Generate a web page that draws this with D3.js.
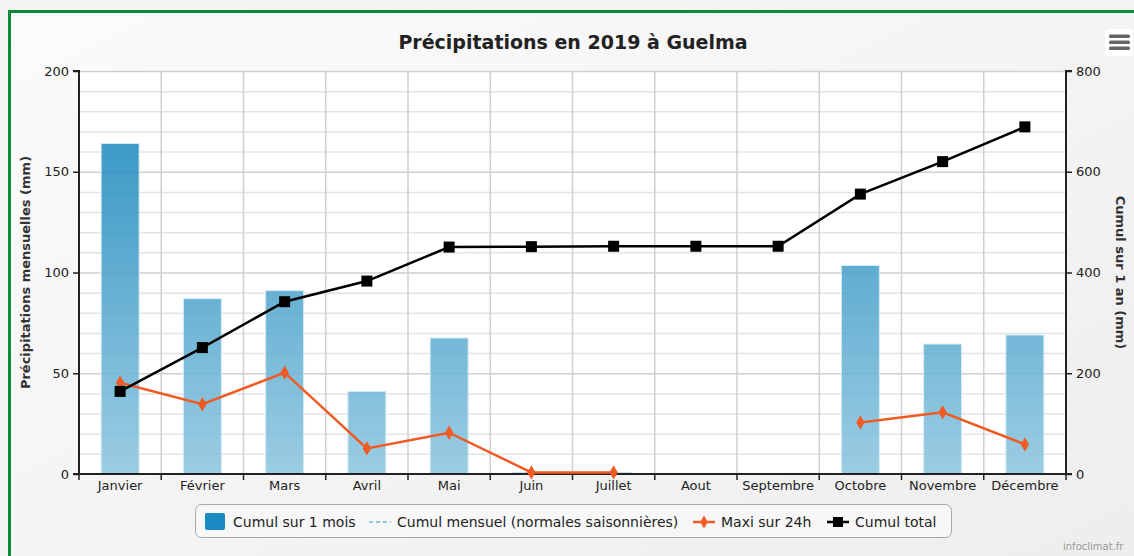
<!DOCTYPE html>
<html>
<head>
<meta charset="utf-8">
<script src="https://cdn.jsdelivr.net/npm/d3@7"></script>
<style>
  html, body { margin: 0; padding: 0; background: #f3f3f3; }
  svg { display: block; }
</style>
</head>
<body>
<svg id="chart" width="1134" height="556"></svg>
<script>
// Monthly precipitation, Guelma 2019
const months = ["Janvier", "Février", "Mars", "Avril", "Mai", "Juin", "Juillet",
                "Aout", "Septembre", "Octobre", "Novembre", "Décembre"];
const monthlyTotal = [164, 87, 91, 41, 67.5, 0.8, 0.8, 0, 0, 103.5, 64.5, 69];
const max24h = [45.3, 34.6, 50.3, 12.7, 20.5, 0.8, 0.8, null, null, 25.6, 30.6, 14.7];
const yearCumul = [164, 251, 342, 383, 450.5, 451.3, 452.1, 452.1, 452.1, 555.6, 620.1, 689.1];
const leftTicks = [0, 50, 100, 150, 200];
const rightTicks = [0, 200, 400, 600, 800];

const W = 1134, H = 556;
const m = { left: 79, right: 1066, top: 71, bottom: 474 };

const svg = d3.select("#chart");
const defs = svg.append("defs");

// page background and frame
const bgGrad = defs.append("linearGradient").attr("id", "bgGrad")
  .attr("x1", 0).attr("y1", 0).attr("x2", 1).attr("y2", 1);
bgGrad.append("stop").attr("offset", 0).attr("stop-color", "#fbfbfb");
bgGrad.append("stop").attr("offset", 1).attr("stop-color", "#ededed");
svg.append("rect").attr("width", W).attr("height", H).attr("fill", "#f3f3f3");
svg.append("rect").attr("x", 9.5).attr("y", 11.5).attr("width", W + 20).attr("height", H + 20)
  .attr("fill", "url(#bgGrad)").attr("stroke", "#0b8a3e").attr("stroke-width", 3);

// plot area
svg.append("rect").attr("x", m.left).attr("y", m.top)
  .attr("width", m.right - m.left).attr("height", m.bottom - m.top).attr("fill", "#ffffff");

const x = d3.scaleBand().domain(months).range([m.left, m.right]).paddingInner(0).paddingOuter(0);
const yL = d3.scaleLinear().domain([0, 200]).range([m.bottom, m.top]);
const yR = d3.scaleLinear().domain([0, 800]).range([m.bottom, m.top]);

// horizontal grid: minor every 10 mm, major every 50 mm
const grid = svg.append("g");
grid.selectAll("line.minor").data(d3.range(10, 201, 10).filter(v => v % 50 !== 0)).join("line")
  .attr("x1", m.left).attr("x2", m.right)
  .attr("y1", d => yL(d) + 0.5).attr("y2", d => yL(d) + 0.5)
  .attr("stroke", "#e4e4e4").attr("stroke-width", 1.5);
grid.selectAll("line.major").data(leftTicks.slice(1)).join("line")
  .attr("x1", m.left).attr("x2", m.right)
  .attr("y1", d => yL(d) + 0.5).attr("y2", d => yL(d) + 0.5)
  .attr("stroke", "#cfcfcf").attr("stroke-width", 1.5);
// vertical grid at month boundaries
grid.selectAll("line.v").data(months.slice(1)).join("line")
  .attr("x1", d => x(d)).attr("x2", d => x(d))
  .attr("y1", m.top).attr("y2", m.bottom)
  .attr("stroke", "#cfcfcf").attr("stroke-width", 1.5);

// bars with a vertical gradient across the plot height
const barGrad = defs.append("linearGradient").attr("id", "barGrad")
  .attr("gradientUnits", "userSpaceOnUse")
  .attr("x1", 0).attr("y1", m.top).attr("x2", 0).attr("y2", m.bottom);
barGrad.append("stop").attr("offset", 0).attr("stop-color", "#0a7fb8");
barGrad.append("stop").attr("offset", 1).attr("stop-color", "#8ec6df");

const barW = 38;
svg.append("g").selectAll("rect").data(months).join("rect")
  .attr("x", d => x(d) + x.bandwidth() / 2 - barW / 2)
  .attr("width", barW)
  .attr("y", (d, i) => yL(monthlyTotal[i]))
  .attr("height", (d, i) => m.bottom - yL(monthlyTotal[i]))
  .attr("fill", "url(#barGrad)").attr("fill-opacity", 0.88)
  .attr("stroke", (d, i) => monthlyTotal[i] > 2 ? "#d6ecf6" : "none").attr("stroke-width", 1);

// axes
const axisColor = "#222";
const fontFam = "'DejaVu Sans', sans-serif";

const gL = svg.append("g").attr("transform", `translate(${m.left},0)`)
  .call(d3.axisLeft(yL).tickValues(leftTicks).tickSize(6).tickPadding(4));
const gR = svg.append("g").attr("transform", `translate(${m.right},0)`)
  .call(d3.axisRight(yR).tickValues(rightTicks).tickSize(6).tickPadding(4));
const gB = svg.append("g").attr("transform", `translate(0,${m.bottom})`)
  .call(d3.axisBottom(x).tickSize(0).tickPadding(7));
// bottom ticks at month boundaries
svg.append("g").selectAll("line").data(months.concat(["end"])).join("line")
  .attr("x1", (d, i) => i < 12 ? x(d) : m.right).attr("x2", (d, i) => i < 12 ? x(d) : m.right)
  .attr("y1", m.bottom).attr("y2", m.bottom + 6)
  .attr("stroke", axisColor).attr("stroke-width", 1.5);

[gL, gR, gB].forEach(g => {
  g.select(".domain").attr("stroke", axisColor).attr("stroke-width", 2);
  g.selectAll(".tick line").attr("stroke", axisColor).attr("stroke-width", 1.5);
  g.selectAll(".tick text").attr("fill", "#222").style("font-family", fontFam).style("font-size", "13px");
});
gB.select(".domain").attr("d", `M${m.left},0H${m.right}`);
gL.select(".domain").attr("d", `M-6,${m.top}H0V${m.bottom}H-6`);
gR.select(".domain").attr("d", `M6,${m.top}H0V${m.bottom}H6`);

// maxi sur 24h (orange line with diamonds, gaps where no data)
const orange = "#f05a24";
const maxLine = d3.line()
  .defined(d => d[1] !== null)
  .x(d => x(d[0]) + x.bandwidth() / 2)
  .y(d => yL(d[1]));
const maxPts = months.map((mo, i) => [mo, max24h[i]]);
svg.append("path").datum(maxPts).attr("d", maxLine)
  .attr("fill", "none").attr("stroke", orange).attr("stroke-width", 2.5);
svg.append("g").selectAll("path").data(maxPts.filter(d => d[1] !== null)).join("path")
  .attr("d", d3.symbol().type(d3.symbolDiamond).size(60))
  .attr("transform", d => `translate(${x(d[0]) + x.bandwidth() / 2},${yL(d[1])})`)
  .attr("fill", orange);

// cumul total on the right axis
const cumPts = months.map((mo, i) => [mo, yearCumul[i]]);
svg.append("path").datum(cumPts)
  .attr("d", d3.line().x(d => x(d[0]) + x.bandwidth() / 2).y(d => yR(d[1])))
  .attr("fill", "none").attr("stroke", "#000").attr("stroke-width", 2.5);
svg.append("g").selectAll("rect").data(cumPts).join("rect")
  .attr("x", d => x(d[0]) + x.bandwidth() / 2 - 5.5)
  .attr("y", d => yR(d[1]) - 5.5)
  .attr("width", 11).attr("height", 11).attr("fill", "#000");

// title
svg.append("text").attr("x", 573).attr("y", 49).attr("text-anchor", "middle")
  .style("font-family", "'DejaVu Sans', sans-serif").style("font-weight", "bold")
  .style("font-size", "19px").attr("fill", "#222")
  .text("Précipitations en 2019 à Guelma");

// axis titles
svg.append("text")
  .attr("transform", `translate(30,${(m.top + m.bottom) / 2}) rotate(-90)`)
  .attr("text-anchor", "middle")
  .style("font-family", fontFam).style("font-weight", "bold").style("font-size", "13px")
  .attr("fill", "#333").text("Précipitations mensuelles (mm)");
svg.append("text")
  .attr("transform", `translate(1116,${(m.top + m.bottom) / 2}) rotate(90)`)
  .attr("text-anchor", "middle")
  .style("font-family", fontFam).style("font-weight", "bold").style("font-size", "13px")
  .attr("fill", "#333").text("Cumul sur 1 an (mm)");

// menu button
const menu = svg.append("g").attr("transform", "translate(1105,29)");
menu.append("rect").attr("width", 28).attr("height", 27).attr("rx", 3).attr("fill", "#ffffff");
[7, 13, 19].forEach(yy => menu.append("rect").attr("x", 4).attr("y", yy - 1.5)
  .attr("width", 21).attr("height", 3.5).attr("rx", 1.5).attr("fill", "#666"));

// legend
const lg = svg.append("g");
lg.append("rect").attr("x", 195.5).attr("y", 504.5).attr("width", 756).attr("height", 33).attr("rx", 6)
  .attr("fill", "#f7f7f7").attr("stroke", "#a8a8a8").attr("stroke-width", 1);
const ly = 522;
const legendFont = s => s.style("font-family", fontFam).style("font-size", "14px").attr("fill", "#222");
lg.append("rect").attr("x", 205).attr("y", ly - 9).attr("width", 20).attr("height", 17).attr("rx", 2).attr("fill", "#1a8ac2");
lg.append("text").attr("x", 233).attr("y", ly + 5).text("Cumul sur 1 mois").call(legendFont);
lg.append("line").attr("x1", 369).attr("x2", 391).attr("y1", ly).attr("y2", ly)
  .attr("stroke", "#8ec6df").attr("stroke-width", 2).attr("stroke-dasharray", "4,3");
lg.append("text").attr("x", 397).attr("y", ly + 5).text("Cumul mensuel (normales saisonnières)").call(legendFont);
lg.append("line").attr("x1", 693).attr("x2", 715).attr("y1", ly).attr("y2", ly)
  .attr("stroke", orange).attr("stroke-width", 2.5);
lg.append("path").attr("d", d3.symbol().type(d3.symbolDiamond).size(50))
  .attr("transform", `translate(704,${ly})`).attr("fill", orange);
lg.append("text").attr("x", 721).attr("y", ly + 5).text("Maxi sur 24h").call(legendFont);
lg.append("line").attr("x1", 827).attr("x2", 849).attr("y1", ly).attr("y2", ly)
  .attr("stroke", "#000").attr("stroke-width", 2.5);
lg.append("rect").attr("x", 833).attr("y", ly - 5).attr("width", 10).attr("height", 10).attr("fill", "#000");
lg.append("text").attr("x", 855).attr("y", ly + 5).text("Cumul total").call(legendFont);

// credit
svg.append("text").attr("x", 1063).attr("y", 550)
  .style("font-family", fontFam).style("font-size", "10px").attr("fill", "#999")
  .text("infoclimat.fr");
</script>
</body>
</html>
